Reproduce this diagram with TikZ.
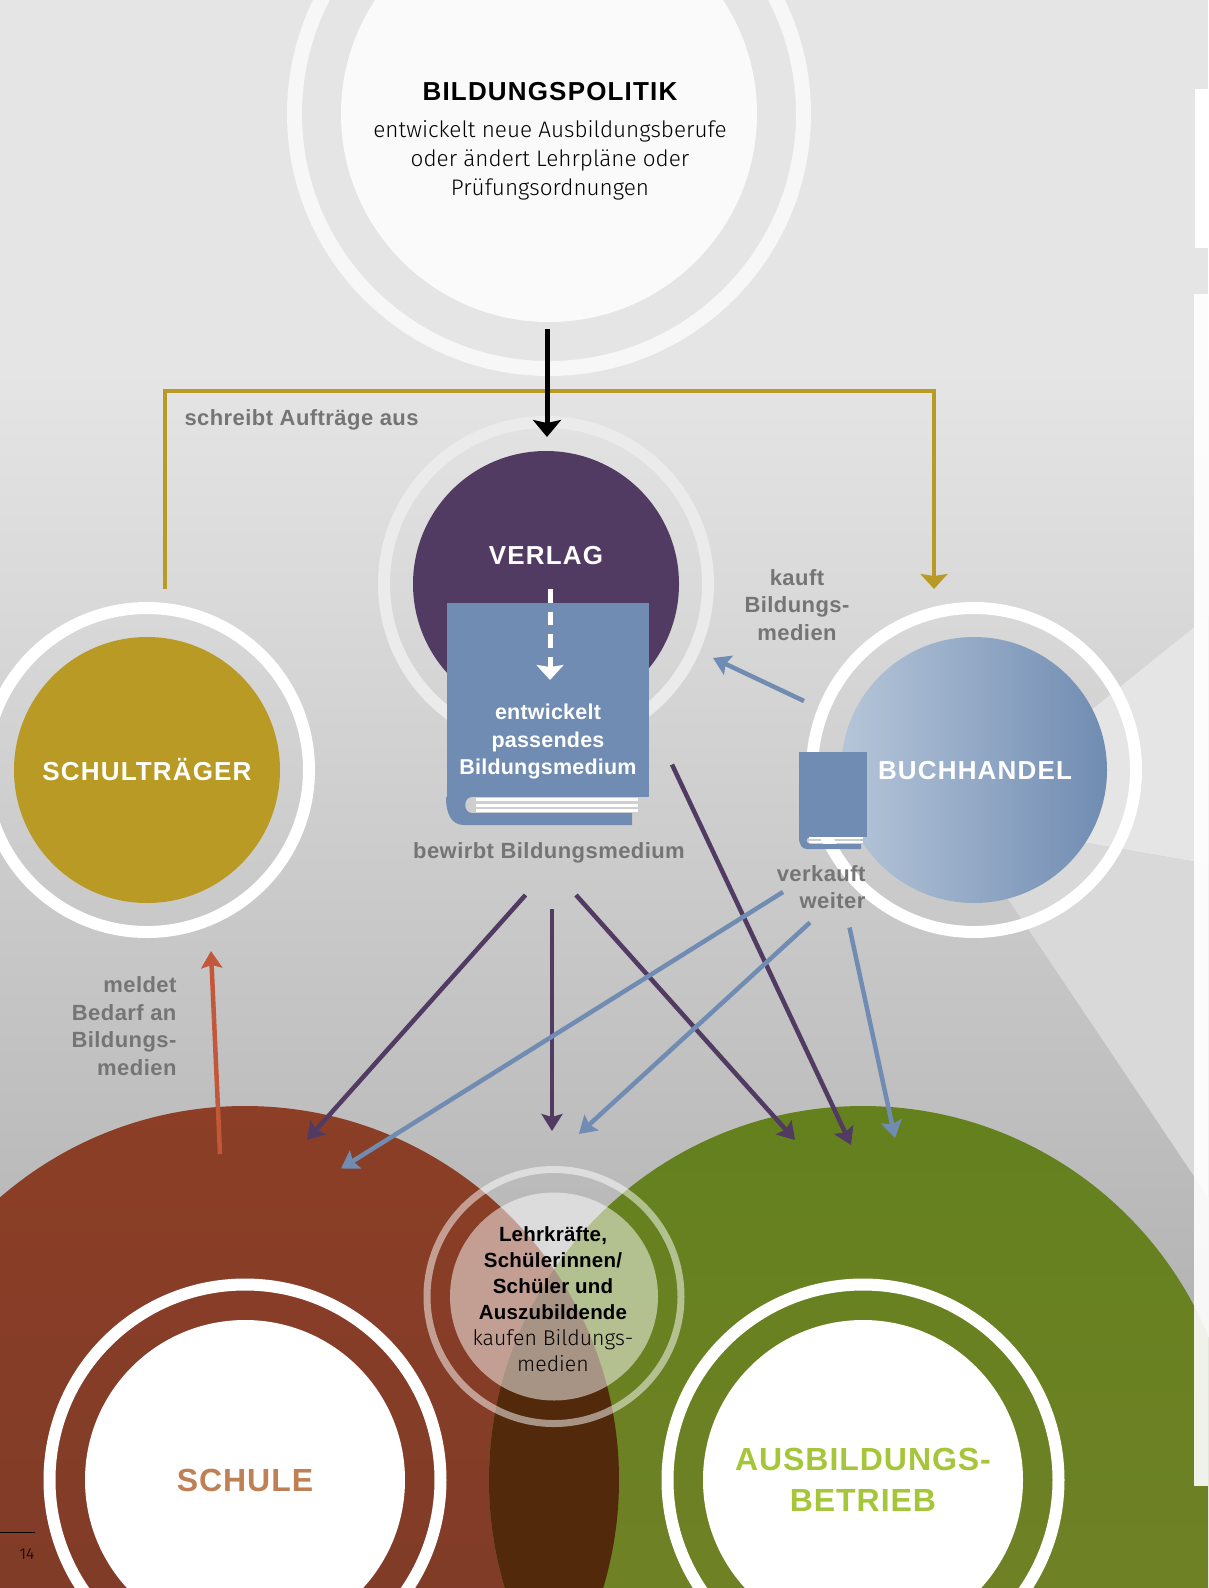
\documentclass[tikz,border=0pt]{standalone}
\usepackage{fontspec}
\setmainfont{Liberation Sans}
\newfontfamily\thinfont{Fira Sans Light}
\newfontfamily\headfont[LetterSpace=4.5]{Liberation Sans Bold}
\newfontfamily\largefont[LetterSpace=3]{Liberation Sans Bold}
\newfontfamily\notefont[LetterSpace=2]{Liberation Sans Bold}
\newfontfamily\bookfont[LetterSpace=1]{Liberation Sans Bold}
\usetikzlibrary{arrows.meta}
\definecolor{golden}{HTML}{B89A24}
\definecolor{plum}{HTML}{523B63}
\definecolor{steel}{HTML}{708CB2}
\definecolor{steellight}{HTML}{B6C6D9}
\definecolor{rust}{HTML}{C2573A}
\definecolor{brickA}{HTML}{8C3E26}
\definecolor{brickB}{HTML}{7A3B29}
\definecolor{oliveA}{HTML}{64811E}
\definecolor{oliveB}{HTML}{758129}
\definecolor{lens}{HTML}{52290A}
\definecolor{note}{HTML}{757575}
\definecolor{clay}{HTML}{C08055}
\definecolor{lime}{HTML}{A6C63A}
\def\mybig{374pt}
\tikzset{
x=1pt,y=-1pt,
>={Stealth[length=17pt,width=21pt,inset=3pt]},
disc/.style={circle,inner sep=0pt,outer sep=0pt,minimum size=#1},
ring/.style={circle,draw=white,line width=12pt,inner sep=0pt,outer sep=0pt,minimum size=324pt},
head/.style={font=\headfont\fontsize{26}{32}\selectfont,text=white,align=center},
big head/.style={font=\largefont\fontsize{32}{41.5}\selectfont,align=center},
note/.style={font=\notefont\fontsize{22}{27.5}\selectfont,text=note,align=center},
thin/.style={font=\thinfont\fontsize{22.5}{29}\selectfont,align=center},
plumline/.style={->,plum,line width=4.5pt},
steelline/.style={->,steel,line width=4.5pt},
goldline/.style={-{Stealth[length=15pt,width=27pt,inset=2pt]},golden,line width=4pt},
pages/.style={white,line width=3pt}
}
\begin{document}
\begin{tikzpicture}
\useasboundingbox (0,0) rectangle (1208,1588);
\clip (0,0) rectangle (1208,1588);
% background
\fill[black!10] (0,0) rectangle (1208,361);
\shade[top color=black!10,bottom color=black!35] (0,360) rectangle (1208,1588);
\fill[black!10] (955,820) -- (1208,616) -- (1208,864) -- cycle;
\fill[black!15] (955,820) -- (1208,864) -- (1208,1197) -- cycle;
% top circle
\node[ring,draw=white!97!black,line width=15pt,minimum size=509pt] (politikring) at (549,114) {};
\node[disc=416pt,fill=white!98!black] (politik) at (politikring) {};
\node[head,text=black] (politiktitle) at (550,92) {BILDUNGSPOLITIK};
\node[thin] (politiktext) at (550,160.5) {entwickelt neue Ausbildungsberufe\\oder ändert Lehrpläne oder\\Prüfungsordnungen};
% middle row
\node[ring,draw=white!92!black] (verlagring) at (546,584) {};
\node[disc=266pt,fill=plum] (verlag) at (verlagring) {};
\node[ring] (traegerring) at (147,770) {};
\node[disc=266pt,fill=golden] (traeger) at (traegerring) {};
\node[ring] (handelring) at (974,770) {};
\node[disc=266pt,left color=steellight,right color=steel] (handel) at (handelring) {};
\node[head] (verlagtitle) at (546,556) {VERLAG};
\node[head] (traegertitle) at (147,770) {SCHULTRÄGER};
\node[head] (handeltitle) at (975,771) {BUCHHANDEL};
% big book
\fill[steel] (447,603) rectangle (649,797);
\fill[steel] (446,797) .. controls (446,815) and (452,825) .. (464,825) -- (632,825) -- (632,813) -- (472,813) .. controls (463,813) and (463,797) .. (472,797) -- cycle;
\foreach \y in {799,805,810} \draw[pages] (476,\y) -- (638,\y);
% small book
\fill[steel] (799,752) rectangle (867,837);
\fill[steel] (799,837) .. controls (799,845) and (802,849) .. (807,849) -- (861,849) -- (861,844) -- (811,844) .. controls (805,844) and (805,837) .. (811,837) -- cycle;
\foreach \y in {838,842} \draw[pages,line width=2.5pt] (809,\y) -- (863,\y);
\node[note,font=\bookfont\fontsize{21.5}{27.5}\selectfont,text=white] (booktext) at (548,741.5) {entwickelt\\passendes\\Bildungsmedium};
% bottom circles
\node[disc=748pt,top color=brickA,bottom color=brickB] (schule) at (245,1480) {};
\node[disc=748pt,top color=oliveA,bottom color=oliveB] (betrieb) at (863,1480) {};
\begin{scope}
\clip (schule) circle (\mybig);
\fill[lens] (betrieb) circle (\mybig);
\end{scope}
\node[ring,minimum size=391pt] (schulering) at (schule) {};
\node[disc=320pt,fill=white] (schulein) at (schule) {};
\node[ring,minimum size=391pt] (betriebring) at (betrieb) {};
\node[disc=320pt,fill=white] (betriebin) at (betrieb) {};
\node[big head,text=clay] (schuletitle) at (245,1480) {SCHULE};
\node[big head,text=lime] (betriebtitle) at (863,1480) {AUSBILDUNGS-\\BETRIEB};
% centre circle
\node[disc=254pt,draw=white,draw opacity=.5,line width=7pt] (leuteRing) at (554,1296.5) {};
\node[disc=208pt,fill=white,fill opacity=.5] (leute) at (leuteRing) {};
\node[font=\fontsize{20.5}{26}\selectfont,align=center] (leutetext) at (553,1299) {\bookfont Lehrkräfte,\\\bookfont Schülerinnen/\\\bookfont Schüler und\\\bookfont Auszubildende\\\thinfont\fontsize{21.3}{26}\selectfont kaufen Bildungs-\\\thinfont\fontsize{21.3}{26}\selectfont medien};
% notes
\node[note,anchor=west] (auftrag) at (181,420) {schreibt Aufträge aus};
\node[note] (kauft) at (797,605) {kauft\\Bildungs-\\medien};
\node[note] (bewirbt) at (549,853) {bewirbt Bildungsmedium};
\node[note,align=right,anchor=east] (verkauft) at (869,887) {verkauft\\weiter};
\node[note,align=right,anchor=east] (meldet) at (180,1026) {meldet\\Bedarf an\\Bildungs-\\medien};
% free ends
\coordinate (g1) at (165,589);
\coordinate (g2) at (165,391);
\coordinate (g3) at (934,391);
\coordinate (g4) at (934,589);
\coordinate (k0) at (547,329);
\coordinate (k1) at (547,437);
\coordinate (w0) at (550,589);
\coordinate (w1) at (550,680);
\coordinate (p1) at (525.5,895);
\coordinate (p2) at (307,1140);
\coordinate (p3) at (552,909);
\coordinate (p4) at (552,1131);
\coordinate (p5) at (576,895);
\coordinate (p6) at (795,1140);
\coordinate (p7) at (672,764.5);
\coordinate (p8) at (851,1145);
\coordinate (s1) at (783,892);
\coordinate (s2) at (341,1168.5);
\coordinate (s3) at (810,922.5);
\coordinate (s4) at (579,1134);
\coordinate (s5) at (849.5,927.5);
\coordinate (s6) at (895,1138);
\coordinate (s7) at (804,701);
\coordinate (s8) at (713,658);
\coordinate (r1) at (220,1154);
\coordinate (r2) at (211,951);
% connectors
\draw[goldline] (g1) -- (g2) -- (g3) -- (g4);
\draw[-{Stealth[length=17pt,width=28pt,inset=3pt]},line width=5pt] (k0) -- (k1);
\draw[-{Stealth[length=15pt,width=27pt,inset=2pt]},white,line width=5pt,dash pattern=on 13.5pt off 9pt] (w0) -- (w1);
\path
  (p1) edge[plumline] (p2)
  (p3) edge[plumline] (p4)
  (p5) edge[plumline] (p6)
  (p7) edge[plumline] (p8)
  (s1) edge[steelline] (s2)
  (s3) edge[steelline] (s4)
  (s5) edge[steelline] (s6)
  (s7) edge[steelline] (s8);
\draw[->,rust,line width=4.5pt] (r1) -- (r2);
% page number
\coordinate (f0) at (0,1532);
\coordinate (f1) at (35,1532);
\draw[black,line width=.8pt] (f0) -- (f1);
\node[font=\thinfont\fontsize{16}{18}\selectfont,text=black] (seite) at (27,1554) {14};
% side panels
\fill[white] (1195,89) rectangle (1208,248);
\fill[white,opacity=.9] (1194,294) rectangle (1208,1486);
\end{tikzpicture}
\end{document}
